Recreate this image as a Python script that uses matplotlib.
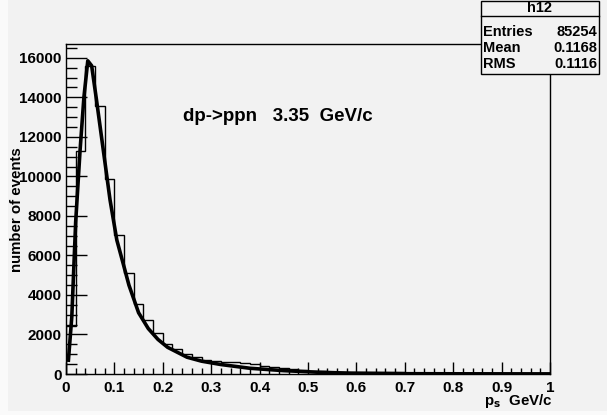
import numpy as np
import matplotlib.pyplot as plt
from matplotlib.patches import Rectangle
from matplotlib.ticker import MultipleLocator, FuncFormatter

# histogram h12: 50 bins of 0.02 GeV/c between 0 and 1
bin_lo = 0.0
bin_hi = 1.0
counts = [2445, 11290, 15590, 13570, 9855, 7020, 5130, 3560, 2715, 2060,
          1500, 1265, 1030, 860, 710, 640, 600, 600, 570, 490,
          420, 330, 290, 240, 200, 170, 140, 110, 90, 80,
          95, 88, 85, 80, 76, 74, 72, 68, 66, 64,
          62, 60, 57, 55, 52, 50, 47, 45, 42, 40]

# fit curve
fit_x = [0.005, 0.012, 0.020, 0.029, 0.037, 0.045, 0.053, 0.063, 0.077, 0.091,
         0.105, 0.118, 0.130, 0.150, 0.170, 0.190, 0.210, 0.250, 0.280, 0.320,
         0.380, 0.450, 0.520, 0.590, 0.700, 0.850, 1.000]
fit_y = [700, 2900, 7700, 11300, 14000, 15850, 15600, 13870, 11340, 8810,
         6780, 5600, 4500, 3100, 2300, 1750, 1350, 850, 650, 480,
         290, 170, 90, 40, 15, 8, 5]

title = "dp->ppn   3.35  GeV/c"
stats_name = "h12"
stats_rows = [("Entries", "85254"), ("Mean", "0.1168"), ("RMS", "0.1116")]

plt.rcParams['font.family'] = ['Liberation Sans', 'DejaVu Sans']
plt.rcParams['font.weight'] = 'bold'
plt.rcParams['mathtext.default'] = 'bf'

W, H = 607, 415
bg = '#f2f2f2'

fig = plt.figure(figsize=(W / 100, H / 100), dpi=100, facecolor='#fafafa')
fig.add_artist(Rectangle((8 / W, 4 / H), (W - 8) / W, (H - 4) / H,
                         transform=fig.transFigure, facecolor=bg,
                         edgecolor='none', zorder=-10))

ax = fig.add_axes([66 / W, 1 - 374 / H, (550 - 66) / W, (374 - 44) / H])
ax.set_facecolor(bg)

edges = np.linspace(bin_lo, bin_hi, len(counts) + 1)
ax.stairs(counts, edges, color='black', lw=1.0)
ax.plot(fit_x, fit_y, color='black', lw=2.6, solid_joinstyle='round')

ax.set_xlim(0, 1)
ax.set_ylim(0, 16700)
for s in ax.spines.values():
    s.set_linewidth(1.0)

ax.xaxis.set_major_locator(MultipleLocator(0.1))
ax.xaxis.set_minor_locator(MultipleLocator(0.02))
ax.yaxis.set_major_locator(MultipleLocator(2000))
ax.yaxis.set_minor_locator(MultipleLocator(500))
ax.xaxis.set_major_formatter(FuncFormatter(lambda v, p: '%g' % round(v, 2)))
ax.tick_params(axis='x', which='major', direction='in', length=9, width=1,
               pad=5, labelsize=11)
ax.tick_params(axis='x', which='minor', direction='in', length=4.5, width=1)
ax.tick_params(axis='y', which='major', direction='in', length=15, width=1,
               pad=3, labelsize=11)
ax.tick_params(axis='y', which='minor', direction='in', length=8, width=1)

ax.text(0.242, 13050, title, fontsize=13.5, va='center', ha='left')

fig.text(17 / W, 1 - 147 / H, "number of events", rotation=90,
         ha='center', va='top', fontsize=10.8)
fig.text(552 / W, 1 - 401 / H, r"p$_\mathbf{s}$  GeV/c", ha='right',
         va='center', fontsize=10.8)

# stats box
bx0, bx1, by0, by1 = 481, 599, 1, 74
fig.add_artist(Rectangle((bx0 / W, 1 - by1 / H), (bx1 - bx0) / W,
                         (by1 - by0) / H, transform=fig.transFigure,
                         facecolor=bg, edgecolor='black', lw=1.0, zorder=5))
fig.add_artist(plt.Line2D([bx0 / W, bx1 / W], [1 - 16 / H, 1 - 16 / H],
                          transform=fig.transFigure, color='black', lw=1.0,
                          zorder=6))
fig.text((bx0 + bx1) / 2 / W, 1 - 8.5 / H, stats_name, ha='center',
         va='center', fontsize=10.5, zorder=7)
for i, (k, v) in enumerate(stats_rows):
    yy = 1 - (32 + 16 * i) / H
    fig.text((bx0 + 2) / W, yy, k, ha='left', va='center', fontsize=10.5,
             zorder=7)
    fig.text((bx1 - 2) / W, yy, v, ha='right', va='center', fontsize=10.5,
             zorder=7)

fig.savefig('out.png', dpi=100, facecolor=fig.get_facecolor())
